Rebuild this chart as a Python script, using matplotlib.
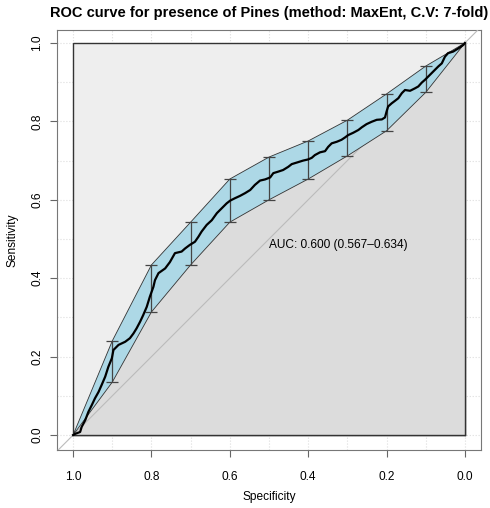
import numpy as np
import matplotlib
matplotlib.use("Agg")
import matplotlib.pyplot as plt

plt.rcParams['font.family'] = ['Liberation Sans', 'DejaVu Sans']

# ROC curve (specificity, sensitivity)
roc_spec = [1.000, 0.995, 0.982, 0.978, 0.969, 0.961, 0.952, 0.944, 0.935, 0.927,
            0.918, 0.910, 0.901, 0.897, 0.884, 0.867, 0.855, 0.846, 0.838, 0.829,
            0.821, 0.812, 0.804, 0.795, 0.791, 0.782, 0.765, 0.753, 0.740, 0.723,
            0.714, 0.702, 0.689, 0.680, 0.672, 0.659, 0.646, 0.633, 0.621, 0.608,
            0.599, 0.587, 0.574, 0.561, 0.548, 0.536, 0.523, 0.510, 0.497, 0.489,
            0.476, 0.464, 0.451, 0.442, 0.429, 0.413, 0.400, 0.391, 0.383, 0.370,
            0.357, 0.349, 0.340, 0.327, 0.315, 0.306, 0.298, 0.285, 0.272, 0.263,
            0.251, 0.238, 0.225, 0.212, 0.204, 0.200, 0.196, 0.187, 0.179, 0.170,
            0.161, 0.153, 0.140, 0.128, 0.119, 0.110, 0.102, 0.094, 0.085, 0.077,
            0.068, 0.059, 0.051, 0.043, 0.030, 0.017, 0.004, 0.000]
roc_sens = [0.000, 0.003, 0.008, 0.021, 0.038, 0.059, 0.077, 0.094, 0.110, 0.128,
            0.149, 0.174, 0.196, 0.217, 0.230, 0.238, 0.247, 0.259, 0.272, 0.289,
            0.306, 0.327, 0.353, 0.378, 0.395, 0.413, 0.425, 0.441, 0.464, 0.468,
            0.476, 0.485, 0.493, 0.506, 0.519, 0.536, 0.548, 0.566, 0.578, 0.591,
            0.598, 0.604, 0.610, 0.617, 0.625, 0.638, 0.649, 0.652, 0.657, 0.668,
            0.672, 0.676, 0.684, 0.691, 0.695, 0.700, 0.703, 0.707, 0.714, 0.721,
            0.724, 0.735, 0.744, 0.748, 0.753, 0.759, 0.765, 0.771, 0.778, 0.785,
            0.793, 0.799, 0.804, 0.805, 0.810, 0.825, 0.838, 0.846, 0.852, 0.859,
            0.872, 0.880, 0.878, 0.884, 0.889, 0.899, 0.906, 0.914, 0.923, 0.931,
            0.940, 0.948, 0.965, 0.974, 0.978, 0.986, 0.995, 1.000]

# confidence interval of sensitivity at fixed specificities
ci_spec = [0.9, 0.8, 0.7, 0.6, 0.5, 0.4, 0.3, 0.2, 0.1]
ci_low = [0.135, 0.314, 0.434, 0.543, 0.600, 0.653, 0.712, 0.776, 0.874]
ci_high = [0.240, 0.434, 0.543, 0.653, 0.709, 0.750, 0.803, 0.870, 0.941]

auc_text = "AUC: 0.600 (0.567\u20130.634)"
title = "ROC curve for presence of Pines (method: MaxEnt, C.V: 7-fold)"

fig = plt.figure(figsize=(4.9, 5.08), dpi=100)
ax = fig.add_axes([57/490, 1-450/508, 424/490, 420/508])
ax.set_xlim(1.041, -0.041)
ax.set_ylim(-0.038, 1.033)

# grid
for g in np.arange(0, 1.01, 0.1):
    ax.axvline(g, color='#DDDDDD', ls=':', lw=0.8, zorder=0)
    ax.axhline(g, color='#DDDDDD', ls=':', lw=0.8, zorder=0)

# max auc polygon
ax.fill([1, 1, 0, 0], [0, 1, 1, 0], facecolor='#EEEEEE', edgecolor='#333333', lw=1, zorder=1)
# auc polygon
ax.fill(list(roc_spec) + [0], list(roc_sens) + [0], facecolor='#DCDCDC', edgecolor='none', zorder=2)
ax.plot([1, 0], [0, 0], color='#333333', lw=1, zorder=2.5)
ax.plot([0, 0], [0, 1], color='#333333', lw=1, zorder=2.5)

# identity line
ax.axline((1, 0), (0, 1), color='#BBBBBB', lw=0.8, zorder=3)

# CI shape
shape_x = [1] + ci_spec + [0] + ci_spec[::-1] + [1]
shape_y = [0] + ci_high + [1] + ci_low[::-1] + [0]
ax.fill(shape_x, shape_y, facecolor='#ADD8E6', edgecolor='#333333', lw=0.6, zorder=4)

# CI bars
lo = np.array(ci_low)
hi = np.array(ci_high)
ax.errorbar(ci_spec, lo, yerr=[np.zeros_like(lo), hi - lo], fmt='none',
            ecolor='#444444', elinewidth=0.9, capsize=4, capthick=0.9, zorder=5)

# ROC curve
ax.plot(roc_spec, roc_sens, color='black', lw=1.6, zorder=6)

ax.text(0.5, 0.5, auc_text, ha='left', va='top', fontsize=8.6, zorder=7)

ticks = [1.0, 0.8, 0.6, 0.4, 0.2, 0.0]
ax.set_xticks(ticks)
ax.set_xticklabels(["%.1f" % t for t in ticks])
ax.set_yticks(ticks)
ax.set_yticklabels(["%.1f" % t for t in ticks], rotation=90, va='center')
ax.tick_params(direction='out', length=5, width=0.8, color='#666666', labelsize=8.6)
ax.tick_params(axis='x', pad=10)
ax.tick_params(axis='y', pad=5)
for s in ax.spines.values():
    s.set_color('#777777')
    s.set_linewidth(0.8)

ax.set_xlabel("Specificity", fontsize=8.6, labelpad=6)
ax.set_ylabel("Sensitivity", fontsize=8.6, labelpad=9)
fig.text(269/490, 1 - 13/508, title, ha='center', va='center', fontsize=10.5, fontweight='bold')

fig.savefig("out.png", dpi=100)
